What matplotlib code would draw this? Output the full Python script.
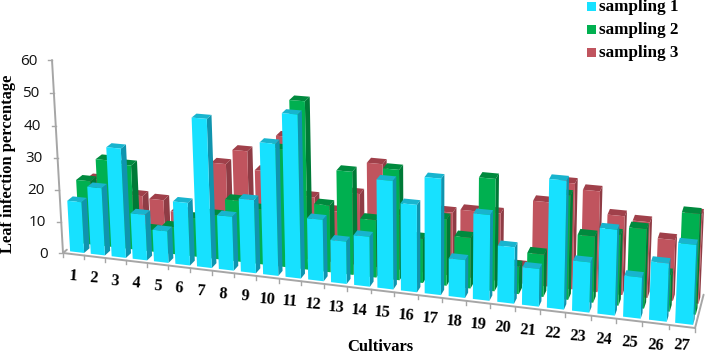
import numpy as np
import matplotlib
matplotlib.use("Agg")
import matplotlib.pyplot as plt

cultivars = [str(i) for i in range(1, 28)]
sampling_1 = [16.1, 21.2, 34.1, 14.3, 9.9, 19.4, 45.5, 16.6, 22.4, 39.9, 49.1, 18.6, 12.8, 15,
              32.2, 25.9, 34.2, 11.2, 25.1, 16.5, 11, 37, 14.5, 24.6, 11.8, 16.6, 22.6]
sampling_2 = [20.3, 27.5, 26.6, 6.9, 8.5, 12.1, 13.7, 19, 17, 36, 50.9, 20.4, 31.2, 17.4,
              33.1, 13.3, 19.9, 15.1, 33.1, 8.1, 12.5, 30.3, 19.3, 20.5, 22.9, 10.6, 28.7]
sampling_3 = [18.2, 12.6, 14.3, 13.7, 10.4, 9.8, 27.1, 31.7, 26.1, 37.3, 19.5, 15.9, 21.9, 31.6,
              16.7, 9.3, 19.1, 20.2, 20.3, 5.1, 25, 31.2, 29.6, 23.1, 22.1, 17.7, 25.7]
y_ticks = [0, 10, 20, 30, 40, 50, 60]

# face, top and side colour for each row of bars
row_colors = [("#17E1FF", "#18B4CE", "#1094AE"),
              ("#00B050", "#008A3E", "#007A37"),
              ("#C0545E", "#A0404A", "#8F3C45")]
legend_labels = ["sampling 1", "sampling 2", "sampling 3"]

# perspective camera: columns are category, depth, value and the origin
P = np.array([[20.32, 34.75, -0.2085, 63.0],
              [1.32, -17.9, -3.2457, 253.0],
              [-0.004444, 0.0387, -0.000484, 1.0]])


def project(x, z, y):
    u, v, w = P @ np.array([x, z, y, 1.0])
    return u / w, v / w


def draw_bar(ax, i, z0, z1, value, colors):
    x0, x1 = i + 0.22, i + 0.9
    face = [(x0, z0, 0), (x1, z0, 0), (x1, z0, value), (x0, z0, value)]
    top = [(x0, z0, value), (x1, z0, value), (x1, z1, value), (x0, z1, value)]
    side = [(x1, z0, 0), (x1, z1, 0), (x1, z1, value), (x1, z0, value)]
    for corners, color in ((side, colors[2]), (top, colors[1]), (face, colors[0])):
        ax.fill(*zip(*[project(*c) for c in corners]), color=color, lw=0)


fig = plt.figure(figsize=(7.08, 3.54), dpi=100)
ax = fig.add_axes([0, 0, 1, 1])
ax.set_xlim(0, 708)
ax.set_ylim(354, 0)
ax.axis("off")

axis_color = "#A6A6A6"


def axis_line(a, b, lw=1.4):
    ax.plot(*zip(project(*a), project(*b)), color=axis_color, lw=lw, solid_capstyle="round")


# axes and tick marks
axis_line((0, 0, 0), (0, 0, 60))
axis_line((0, 0, 0), (27, 0, 0))
axis_line((27, 0, 0), (27, 1, 0))
axis_line((0, 0, 0), (0, 0.12, 0))
for i in range(28):
    u, v = project(i, 0, 0)
    ax.plot([u, u], [v, v + 4], color=axis_color, lw=1)
for t in y_ticks:
    u, v = project(0, 0, t)
    ax.plot([u - 4, u], [v, v], color=axis_color, lw=1)
    ax.text(u - 15, v + 1, str(t), ha="right", va="center", fontsize=11,
            family="Open Sans", color="#111111")

# bars, back row first
rows = [(0.71, 0.91, sampling_3, row_colors[2]),
        (0.38, 0.58, sampling_2, row_colors[1]),
        (0.08, 0.25, sampling_1, row_colors[0])]
for z0, z1, values, colors in rows:
    for i, value in enumerate(values):
        draw_bar(ax, i, z0, z1, value, colors)

# category labels follow the front edge of the floor
for i, name in enumerate(cultivars):
    u, v = project(i + 0.5, 0, 0)
    ax.text(u, min(v + 22, 345.5), name, ha="center", va="center", rotation=-4,
            rotation_mode="anchor", fontsize=11.8, family="Liberation Serif", fontweight="bold")

ax.text(380, 347, "Cultivars", ha="center", va="center", fontsize=12,
        family="Liberation Serif", fontweight="bold")
ax.text(8, 164, "Leaf infection percentage", ha="center", va="center", rotation=90,
        fontsize=11.9, family="Liberation Serif", fontweight="bold")

# legend
for label, colors, y in zip(legend_labels, row_colors, (6, 29, 52)):
    ax.fill([587, 596, 596, 587], [y - 4, y - 4, y + 5, y + 5], color=colors[0], lw=0)
    ax.text(599, y + 1, label, ha="left", va="center", fontsize=12.3,
            family="Liberation Serif", fontweight="bold")

fig.savefig("out.png", dpi=100)
